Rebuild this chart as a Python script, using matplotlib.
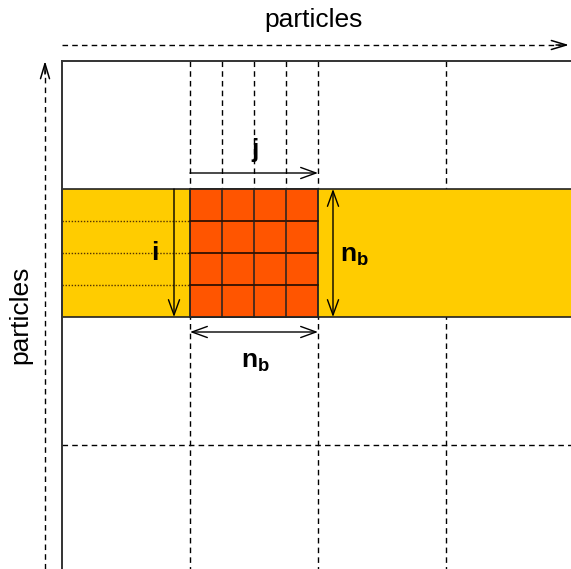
import matplotlib.pyplot as plt
from matplotlib.patches import Rectangle

plt.rcParams['font.family'] = ['Liberation Sans', 'DejaVu Sans']
plt.rcParams['mathtext.fontset'] = 'custom'
plt.rcParams['mathtext.rm'] = 'Liberation Sans'
plt.rcParams['mathtext.bf'] = 'Liberation Sans:bold'

# block layout (pixel units of the picture)
origin = (62, 61)
block = 128
n_blocks = 4
sub = 4                     # sub-cells per block side
band_row = 1                # yellow row of blocks
tile_col = 1                # orange block inside that row
axis_label = 'particles'

W, H = 571, 569
x0, y0 = origin
col_edges = [x0 + k * block for k in range(n_blocks + 1)]
row_edges = [y0 + k * block for k in range(n_blocks + 1)]
step = block / sub

fig = plt.figure(figsize=(5.71, 5.69), dpi=100)
ax = fig.add_axes([0, 0, 1, 1])
ax.set_xlim(0, W)
ax.set_ylim(H, 0)
ax.axis('off')

dash = dict(color='black', lw=1, ls=(0, (4, 3)))

# dashed block grid
for xc in col_edges[1:-1]:
    ax.plot([xc, xc], [y0, H], zorder=1, **dash)
for yr in row_edges[3:-1]:
    ax.plot([x0, W], [yr, yr], zorder=1, **dash)

# dashed sub-columns above the band
bt = row_edges[band_row]
bb = row_edges[band_row + 1]
tl = col_edges[tile_col]
tr = col_edges[tile_col + 1]
for k in range(1, sub):
    xs = tl + k * step
    ax.plot([xs, xs], [y0, bt], zorder=1, **dash)

# yellow band
ax.add_patch(Rectangle((x0, bt), W - x0 + 5, block, fc='#ffcc00',
                       ec='#222222', lw=1.2, zorder=2))
# dotted sub-rows in left part
for k in range(1, sub):
    ys = bt + k * step
    ax.plot([x0, tl], [ys, ys], color='#553300', lw=1, ls=(0, (1, 1.2)), zorder=3)

# orange tile with sub-grid
ax.add_patch(Rectangle((tl, bt), block, block, fc='#ff5500',
                       ec='#222222', lw=1.3, zorder=3))
for k in range(1, sub):
    ax.plot([tl + k * step] * 2, [bt, bb], color='#222222', lw=1.1, zorder=4)
    ax.plot([tl, tr], [bt + k * step] * 2, color='#331100', lw=1.3, zorder=4)

# matrix frame
ax.plot([x0, x0], [y0, H], color='#333333', lw=1.4, zorder=5)
ax.plot([x0, W], [y0, y0], color='#333333', lw=1.4, zorder=5)

# outer dashed axis arrows (dashed shaft, solid head)
head = dict(arrowstyle='->,head_length=0.6,head_width=0.18', lw=1.1,
            color='black', shrinkA=0, shrinkB=0, mutation_scale=18)
ax.plot([x0, 560], [45, 45], **dash)
ax.annotate('', xy=(569, 45), xytext=(556, 45), arrowprops=head)
ax.plot([45, 45], [H, 70], **dash)
ax.annotate('', xy=(45, y0), xytext=(45, 74), arrowprops=head)
ax.text(314, 20, axis_label, fontsize=19, ha='center', va='center')
ax.text(20, 315, axis_label, fontsize=19, ha='center', va='center', rotation=90)

# index arrows
arr = dict(arrowstyle='->,head_length=0.55,head_width=0.2', lw=1,
           color='black', shrinkA=0, shrinkB=0, mutation_scale=20)
arr2 = dict(arr, arrowstyle='<->,head_length=0.55,head_width=0.2')
ax.annotate('', xy=(174, bb), xytext=(174, bt), arrowprops=arr, zorder=6)
ax.annotate('', xy=(tr, 173), xytext=(tl, 173), arrowprops=arr, zorder=6)
ax.annotate('', xy=(333, bb), xytext=(333, bt), arrowprops=arr2, zorder=6)
ax.annotate('', xy=(tr, 332), xytext=(tl, 332), arrowprops=arr2, zorder=6)

lab = dict(fontsize=19, fontweight='bold', ha='center', va='center', zorder=7)
ax.text(155, 253, 'i', **lab)
ax.text(255, 150, 'j', **lab)
ax.text(354, 256, r'$\mathbf{n_b}$', **lab)
ax.text(255, 362, r'$\mathbf{n_b}$', **lab)

fig.savefig('out.png', dpi=100)
